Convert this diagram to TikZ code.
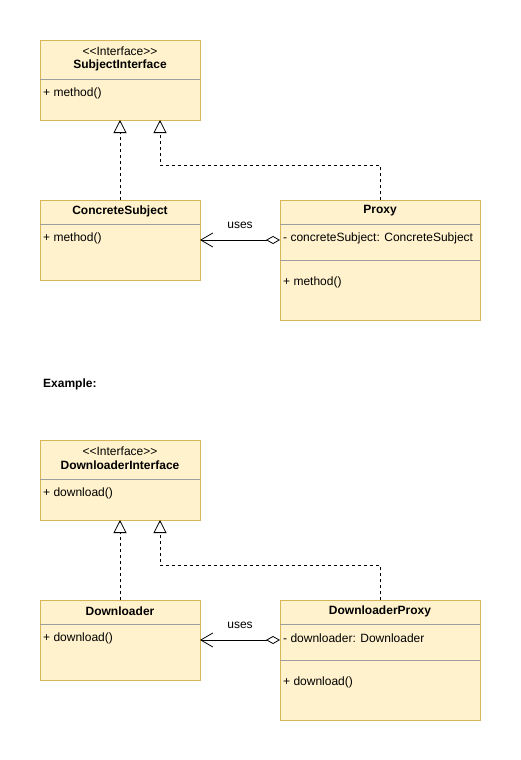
\documentclass[tikz,border=0pt]{standalone}
\usepackage{fontspec}
\setmainfont{Liberation Sans}
\usetikzlibrary{arrows.meta}
\definecolor{boxfill}{HTML}{FFF2CC}
\definecolor{boxline}{HTML}{D6B656}
\definecolor{sepline}{HTML}{9E9E9E}
\newcommand{\stereo}[1]{<\kern0pt<#1>\kern0pt>}
\begin{document}
\begin{tikzpicture}[x=1pt,y=-1pt,
  font=\fontsize{12}{14}\selectfont,
  umlbox/.style={draw=boxline, fill=boxfill, line width=0.9pt, anchor=north west,
    inner sep=0pt, outer sep=0pt},
  sepbar/.style={draw=sepline, line width=0.9pt},
  title/.style={font=\fontsize{12}{14}\selectfont\bfseries, anchor=center, inner sep=0pt},
  plain/.style={anchor=west, inner sep=0pt},
  inherit/.style={draw=black, line width=0.8pt, dash pattern=on 3pt off 3pt,
    -{Triangle[open, length=13pt, width=13pt, line width=0.8pt]}},
  uses/.style={draw=black, line width=0.8pt,
    {Diamond[open, length=14pt, width=8pt, line width=0.8pt]}-{Straight Barb[length=12pt, width=14pt, line width=0.8pt]}},
  lbl/.style={inner sep=0pt, anchor=center}
]
\useasboundingbox (0,0) rectangle (521,760);

% ---------- Proxy pattern ----------
\node[umlbox, minimum width=160pt, minimum height=80pt] (si) at (40,40) {};
\draw[sepbar] ([yshift=-39pt]si.north west) -- ([yshift=-39pt]si.north east);
\node[lbl] (siS) at (120,51) {\stereo{Interface}};
\node[title] (siT) at (120,65) {SubjectInterface};
\node[plain] (siM) at (43,93) {+ method()};

\node[umlbox, minimum width=160pt, minimum height=80pt] (cs) at (40,200) {};
\draw[sepbar] ([yshift=-24pt]cs.north west) -- ([yshift=-24pt]cs.north east);
\node[title] (csT) at (120,211) {ConcreteSubject};
\node[plain] (csM) at (43,238) {+ method()};

\node[umlbox, minimum width=200pt, minimum height=120pt] (px) at (280,200) {};
\draw[sepbar] ([yshift=-24pt]px.north west) -- ([yshift=-24pt]px.north east);
\draw[sepbar] ([yshift=-60pt]px.north west) -- ([yshift=-60pt]px.north east);
\node[title] (pxT) at (380,211) {Proxy};
\node[plain] (pxA) at (283,238) {- concreteSubject: ConcreteSubject};
\node[plain] (pxM) at (283,282) {+ method()};

\draw[inherit] (cs.north) -- (si.south);
\draw[inherit] (px.north) -- ++(0,-35) -| ([xshift=40pt]si.south);
\draw[uses] ([yshift=-40pt]px.north west) -- ([yshift=-40pt]cs.north east)
  node[lbl, pos=0.5, yshift=15pt] (u1) {uses};

% ---------- Example ----------
\node[plain, font=\fontsize{12}{14}\selectfont\bfseries] (ex) at (43,384) {Example:};

\node[umlbox, minimum width=160pt, minimum height=80pt] (di) at (40,440) {};
\draw[sepbar] ([yshift=-39pt]di.north west) -- ([yshift=-39pt]di.north east);
\node[lbl] (diS) at (120,451) {\stereo{Interface}};
\node[title] (diT) at (120,465) {DownloaderInterface};
\node[plain] (diM) at (43,493) {+ download()};

\node[umlbox, minimum width=160pt, minimum height=80pt] (dl) at (40,600) {};
\draw[sepbar] ([yshift=-24pt]dl.north west) -- ([yshift=-24pt]dl.north east);
\node[title] (dlT) at (120,611) {Downloader};
\node[plain] (dlM) at (43,638) {+ download()};

\node[umlbox, minimum width=200pt, minimum height=120pt] (dp) at (280,600) {};
\draw[sepbar] ([yshift=-24pt]dp.north west) -- ([yshift=-24pt]dp.north east);
\draw[sepbar] ([yshift=-60pt]dp.north west) -- ([yshift=-60pt]dp.north east);
\node[title] (dpT) at (380,611) {DownloaderProxy};
\node[plain] (dpA) at (283,638) {- downloader: Downloader};
\node[plain] (dpM) at (283,682) {+ download()};

\draw[inherit] (dl.north) -- (di.south);
\draw[inherit] (dp.north) -- ++(0,-35) -| ([xshift=40pt]di.south);
\draw[uses] ([yshift=-40pt]dp.north west) -- ([yshift=-40pt]dl.north east)
  node[lbl, pos=0.5, yshift=15pt] (u2) {uses};
\end{tikzpicture}
\end{document}
